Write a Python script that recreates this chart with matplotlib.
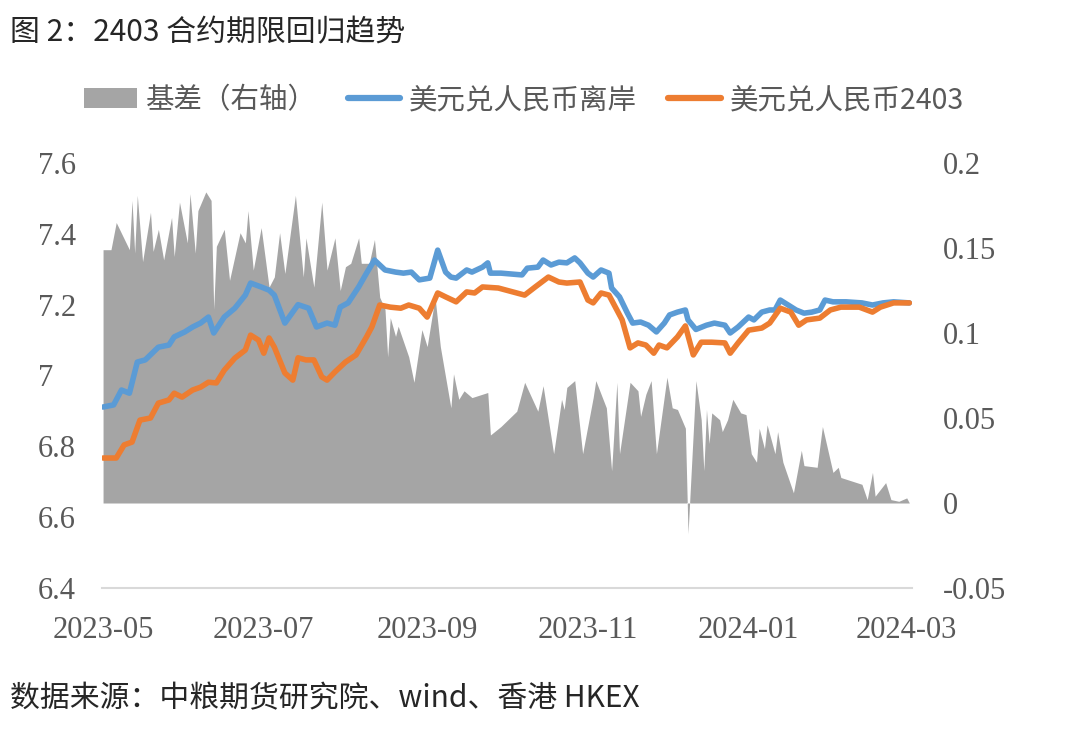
import matplotlib
matplotlib.use("Agg")
import matplotlib.pyplot as plt
from matplotlib.patches import Patch
from matplotlib.lines import Line2D
import pandas as pd

# ---------------- data ----------------
offshore_dates = [
    "2023-05-01", "2023-05-05", "2023-05-08", "2023-05-11", "2023-05-14", "2023-05-17",
    "2023-05-22", "2023-05-26", "2023-05-28", "2023-06-01", "2023-06-04", "2023-06-07",
    "2023-06-10", "2023-06-12", "2023-06-16", "2023-06-20", "2023-06-24", "2023-06-26",
    "2023-06-30", "2023-07-03", "2023-07-05", "2023-07-09", "2023-07-14", "2023-07-18",
    "2023-07-21", "2023-07-25", "2023-07-28", "2023-07-30", "2023-08-02", "2023-08-06",
    "2023-08-09", "2023-08-12", "2023-08-16", "2023-08-20", "2023-08-23", "2023-08-26",
    "2023-08-29", "2023-09-02", "2023-09-05", "2023-09-08", "2023-09-10", "2023-09-12",
    "2023-09-16", "2023-09-18", "2023-09-22", "2023-09-24", "2023-09-25", "2023-09-29",
    "2023-10-07", "2023-10-09", "2023-10-13", "2023-10-15", "2023-10-18", "2023-10-21",
    "2023-10-24", "2023-10-27", "2023-10-29", "2023-11-01", "2023-11-03", "2023-11-06",
    "2023-11-09", "2023-11-10", "2023-11-13", "2023-11-16", "2023-11-18", "2023-11-21",
    "2023-11-24", "2023-11-27", "2023-11-30", "2023-12-02", "2023-12-05", "2023-12-08",
    "2023-12-09", "2023-12-12", "2023-12-16", "2023-12-19", "2023-12-23", "2023-12-25",
    "2023-12-28", "2024-01-01", "2024-01-03", "2024-01-06", "2024-01-09", "2024-01-11",
    "2024-01-13", "2024-01-16", "2024-01-19", "2024-01-22", "2024-01-25", "2024-01-28",
    "2024-01-30", "2024-02-02", "2024-02-07", "2024-02-13", "2024-02-17", "2024-02-21",
    "2024-02-25", "2024-03-02",
]
offshore_values = [
    6.911, 6.917, 6.959, 6.950, 7.038, 7.044,
    7.080, 7.086, 7.109, 7.123, 7.137, 7.148,
    7.165, 7.120, 7.165, 7.190, 7.227, 7.261,
    7.250, 7.241, 7.227, 7.148, 7.200, 7.190,
    7.137, 7.148, 7.142, 7.193, 7.205, 7.250,
    7.289, 7.326, 7.298, 7.292, 7.289, 7.292,
    7.270, 7.275, 7.354, 7.292, 7.278, 7.275,
    7.298, 7.292, 7.306, 7.318, 7.289, 7.289,
    7.284, 7.303, 7.306, 7.326, 7.312, 7.320,
    7.318, 7.332, 7.318, 7.289, 7.278, 7.298,
    7.289, 7.247, 7.222, 7.176, 7.148, 7.151,
    7.142, 7.123, 7.148, 7.171, 7.179, 7.185,
    7.157, 7.130, 7.142, 7.148, 7.142, 7.120,
    7.137, 7.165, 7.157, 7.179, 7.185, 7.185,
    7.213, 7.199, 7.185, 7.176, 7.179, 7.185,
    7.213, 7.208, 7.208, 7.205, 7.199, 7.205,
    7.208, 7.205,
]

fut_dates = [
    "2023-05-01", "2023-05-06", "2023-05-09", "2023-05-12", "2023-05-15", "2023-05-19",
    "2023-05-22", "2023-05-26", "2023-05-28", "2023-05-31", "2023-06-04", "2023-06-07",
    "2023-06-10", "2023-06-13", "2023-06-16", "2023-06-20", "2023-06-24", "2023-06-26",
    "2023-06-29", "2023-07-01", "2023-07-03", "2023-07-05", "2023-07-09", "2023-07-12",
    "2023-07-14", "2023-07-17", "2023-07-20", "2023-07-23", "2023-07-25", "2023-07-28",
    "2023-08-01", "2023-08-05", "2023-08-09", "2023-08-11", "2023-08-14", "2023-08-18",
    "2023-08-22", "2023-08-25", "2023-08-29", "2023-09-01", "2023-09-05", "2023-09-08",
    "2023-09-12", "2023-09-16", "2023-09-19", "2023-09-22", "2023-09-28", "2023-10-08",
    "2023-10-12", "2023-10-17", "2023-10-21", "2023-10-24", "2023-10-29", "2023-11-01",
    "2023-11-03", "2023-11-06", "2023-11-09", "2023-11-12", "2023-11-14", "2023-11-17",
    "2023-11-20", "2023-11-23", "2023-11-26", "2023-11-28", "2023-12-01", "2023-12-05",
    "2023-12-08", "2023-12-11", "2023-12-14", "2023-12-18", "2023-12-23", "2023-12-25",
    "2023-12-28", "2024-01-01", "2024-01-06", "2024-01-09", "2024-01-13", "2024-01-17",
    "2024-01-20", "2024-01-23", "2024-01-28", "2024-02-01", "2024-02-05", "2024-02-12",
    "2024-02-17", "2024-02-20", "2024-02-25", "2024-03-02",
]
fut_values = [
    6.767, 6.767, 6.804, 6.812, 6.874, 6.880,
    6.922, 6.931, 6.950, 6.939, 6.959, 6.967,
    6.981, 6.979, 7.015, 7.049, 7.072, 7.114,
    7.100, 7.063, 7.106, 7.080, 7.007, 6.987,
    7.050, 7.044, 7.044, 6.996, 6.987, 7.010,
    7.038, 7.058, 7.109, 7.137, 7.199, 7.193,
    7.190, 7.199, 7.190, 7.165, 7.233, 7.222,
    7.208, 7.236, 7.233, 7.250, 7.247, 7.227,
    7.250, 7.278, 7.264, 7.261, 7.264, 7.213,
    7.205, 7.233, 7.227, 7.185, 7.157, 7.078,
    7.092, 7.086, 7.063, 7.086, 7.078, 7.109,
    7.140, 7.058, 7.094, 7.094, 7.092, 7.063,
    7.092, 7.128, 7.134, 7.148, 7.190, 7.179,
    7.142, 7.157, 7.162, 7.185, 7.193, 7.193,
    7.179, 7.193, 7.205, 7.205,
]

basis_dates = [
    "2023-05-01", "2023-05-04", "2023-05-06", "2023-05-11", "2023-05-12", "2023-05-13",
    "2023-05-14", "2023-05-16", "2023-05-19", "2023-05-20", "2023-05-22", "2023-05-24",
    "2023-05-27", "2023-05-28", "2023-05-30", "2023-06-02", "2023-06-03", "2023-06-05",
    "2023-06-06", "2023-06-09", "2023-06-11", "2023-06-12", "2023-06-13", "2023-06-16",
    "2023-06-18", "2023-06-22", "2023-06-24", "2023-06-25", "2023-06-27", "2023-06-30",
    "2023-07-03", "2023-07-05", "2023-07-07", "2023-07-09", "2023-07-13", "2023-07-16",
    "2023-07-17", "2023-07-20", "2023-07-23", "2023-07-25", "2023-07-28", "2023-07-30",
    "2023-08-01", "2023-08-03", "2023-08-06", "2023-08-07", "2023-08-10", "2023-08-12",
    "2023-08-14", "2023-08-16", "2023-08-17", "2023-08-18", "2023-08-20", "2023-08-21",
    "2023-08-25", "2023-08-27", "2023-08-30", "2023-09-01", "2023-09-04", "2023-09-06",
    "2023-09-10", "2023-09-11", "2023-09-13", "2023-09-15", "2023-09-18", "2023-09-24",
    "2023-09-25", "2023-09-29", "2023-10-05", "2023-10-08", "2023-10-13", "2023-10-15",
    "2023-10-19", "2023-10-22", "2023-10-23", "2023-10-24", "2023-10-27", "2023-10-30",
    "2023-11-03", "2023-11-04", "2023-11-08", "2023-11-10", "2023-11-12", "2023-11-13",
    "2023-11-17", "2023-11-20", "2023-11-21", "2023-11-23", "2023-11-25", "2023-11-27",
    "2023-12-01", "2023-12-03", "2023-12-05", "2023-12-08", "2023-12-09", "2023-12-12",
    "2023-12-14", "2023-12-15", "2023-12-16", "2023-12-17", "2023-12-18", "2023-12-21",
    "2023-12-22", "2023-12-24", "2023-12-26", "2023-12-29", "2023-12-31", "2024-01-02",
    "2024-01-04", "2024-01-05", "2024-01-07", "2024-01-08", "2024-01-11", "2024-01-12",
    "2024-01-14", "2024-01-18", "2024-01-21", "2024-01-22", "2024-01-27", "2024-01-29",
    "2024-02-02", "2024-02-04", "2024-02-05", "2024-02-13", "2024-02-15", "2024-02-17",
    "2024-02-18", "2024-02-22", "2024-02-24", "2024-02-27", "2024-03-01", "2024-03-02",
]
basis_values = [
    0.149, 0.149, 0.165, 0.149, 0.178, 0.147,
    0.181, 0.142, 0.171, 0.148, 0.161, 0.143,
    0.168, 0.145, 0.177, 0.153, 0.182, 0.147,
    0.172, 0.183, 0.178, 0.114, 0.151, 0.161,
    0.131, 0.159, 0.153, 0.172, 0.137, 0.162,
    0.127, 0.133, 0.159, 0.135, 0.181, 0.133,
    0.156, 0.127, 0.177, 0.137, 0.156, 0.125,
    0.139, 0.141, 0.156, 0.141, 0.141, 0.155,
    0.121, 0.114, 0.086, 0.109, 0.098, 0.104,
    0.086, 0.071, 0.102, 0.092, 0.121, 0.092,
    0.056, 0.076, 0.061, 0.066, 0.062, 0.065,
    0.040, 0.045, 0.054, 0.071, 0.054, 0.069,
    0.029, 0.061, 0.055, 0.068, 0.072, 0.029,
    0.062, 0.072, 0.056, 0.019, 0.071, 0.029,
    0.071, 0.066, 0.051, 0.064, 0.072, 0.029,
    0.074, 0.056, 0.055, 0.044, -0.018, 0.072,
    0.049, 0.019, 0.055, 0.035, 0.053, 0.049,
    0.042, 0.049, 0.061, 0.053, 0.052, 0.029,
    0.024, 0.044, 0.032, 0.046, 0.029, 0.042,
    0.024, 0.006, 0.031, 0.022, 0.021, 0.045,
    0.018, 0.021, 0.015, 0.011, 0.002, 0.018,
    0.004, 0.012, 0.002, 0.001, 0.003, 0.000,
]

left_ticks = [6.4, 6.6, 6.8, 7.0, 7.2, 7.4, 7.6]
left_labels = ["6.4", "6.6", "6.8", "7", "7.2", "7.4", "7.6"]
right_ticks = [-0.05, 0.0, 0.05, 0.1, 0.15, 0.2]
right_labels = ["-0.05", "0", "0.05", "0.1", "0.15", "0.2"]
x_ticks = ["2023-05-01", "2023-07-01", "2023-09-01", "2023-11-01", "2024-01-01", "2024-03-01"]
x_labels = ["2023-05", "2023-07", "2023-09", "2023-11", "2024-01", "2024-03"]

title = "图 2：2403 合约期限回归趋势"
source = "数据来源：中粮期货研究院、wind、香港 HKEX"
name_basis = "基差（右轴）"
name_offshore = "美元兑人民币离岸"
name_fut = "美元兑人民币2403"

# ---------------- style ----------------
C_BLUE = "#5B9BD5"
C_ORANGE = "#ED7D31"
C_GRAY = "#A5A5A5"
C_TEXT = "#595959"
CJK = ["Noto Sans CJK SC", "DejaVu Sans"]
NUM = ["Liberation Serif", "DejaVu Serif"]

plt.rcParams["font.family"] = CJK

fig = plt.figure(figsize=(10.8, 7.33), dpi=100)
ax1 = fig.add_axes([102 / 1080, 1 - 588 / 733, 810 / 1080, 425 / 733])
ax2 = ax1.twinx()

bd = pd.to_datetime(basis_dates)
ax2.fill_between(bd, 0, basis_values, color=C_GRAY, linewidth=0, zorder=1)

ax1.plot(pd.to_datetime(offshore_dates), offshore_values, color=C_BLUE, lw=4.0,
         solid_joinstyle="round", solid_capstyle="round", zorder=3)
ax1.plot(pd.to_datetime(fut_dates), fut_values, color=C_ORANGE, lw=4.0,
         solid_joinstyle="round", solid_capstyle="round", zorder=4)

ax1.set_zorder(ax2.get_zorder() + 1)
ax1.patch.set_visible(False)

ax1.set_ylim(6.4, 7.6)
ax2.set_ylim(-0.05, 0.2)
ax1.set_xlim(pd.Timestamp("2023-05-01") - pd.Timedelta(days=0.4),
             pd.Timestamp("2024-03-03"))

for a in (ax1, ax2):
    for s in a.spines.values():
        s.set_visible(False)

ax1.axhline(6.4, color="#D9D9D9", lw=1.5, zorder=0, clip_on=False)

ax1.set_yticks(left_ticks)
ax1.set_yticklabels(left_labels, fontfamily=NUM, fontsize=22, color=C_TEXT, ha="left")
ax1.tick_params(axis="y", length=0, pad=46)
ax2.set_yticks(right_ticks)
ax2.set_yticklabels(right_labels, fontfamily=NUM, fontsize=22, color=C_TEXT)
ax2.tick_params(axis="y", length=0, pad=22)

ax1.set_xticks(pd.to_datetime(x_ticks))
ax1.set_xticklabels(x_labels, fontfamily=NUM, fontsize=22, color=C_TEXT)
ax1.tick_params(axis="x", length=0, pad=20)

fig.text(10 / 1080, 1 - 33 / 733, title, fontsize=21.5, color="#262626",
         ha="left", va="center", family=CJK)
fig.text(10 / 1080, 1 - 699 / 733, source, fontsize=21.5, color="#262626",
         ha="left", va="center", family=CJK)

handles = [
    Patch(facecolor=C_GRAY, edgecolor="none"),
    Line2D([0], [0], color=C_BLUE, lw=4.5, solid_capstyle="round"),
    Line2D([0], [0], color=C_ORANGE, lw=4.5, solid_capstyle="round"),
]
leg = fig.legend(handles, [name_basis, name_offshore, name_fut], ncol=3,
                 loc="center", bbox_to_anchor=(524 / 1080, 1 - 100 / 733),
                 frameon=False, handlelength=1.85, handleheight=0.7,
                 handletextpad=0.3, columnspacing=1.1,
                 prop={"family": CJK, "size": 20.5, "weight": "medium"})
for t in leg.get_texts():
    t.set_color(C_TEXT)

fig.savefig("out.png", dpi=100)
